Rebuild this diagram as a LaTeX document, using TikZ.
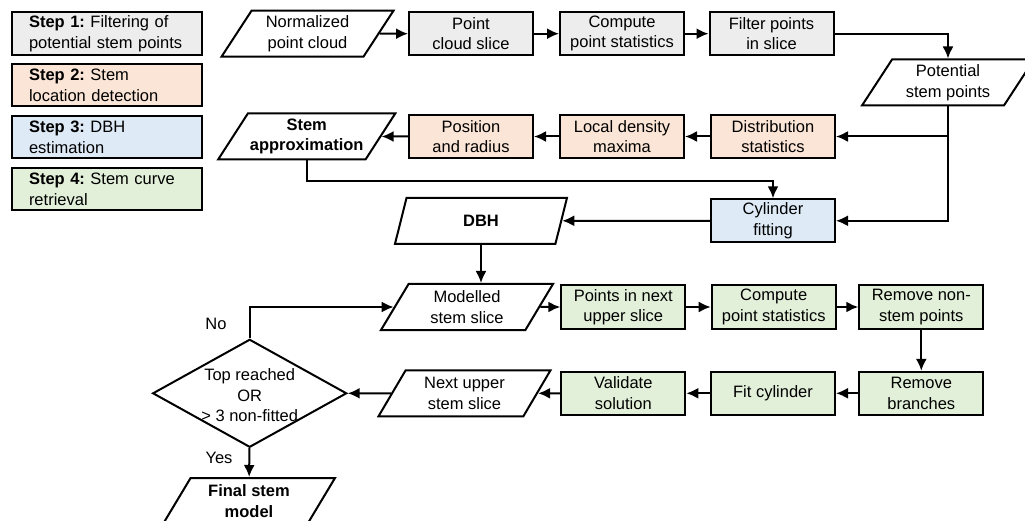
\documentclass[tikz,border=0pt]{standalone}
\usepackage{fontspec}
\setmainfont{Liberation Sans}
\usepackage{xcolor}
\usepackage{tikz}
\usetikzlibrary{shapes,arrows.meta}
\newcommand{\nodefont}{\fontsize{16.5}{20.5}\selectfont}
\definecolor{filtgray}{HTML}{EDEDED}
\definecolor{locorange}{HTML}{FBE5D6}
\definecolor{dbhblue}{HTML}{DEEBF7}
\definecolor{curvegreen}{HTML}{E2F0D9}
\tikzset{box/.style={rectangle,draw,minimum width=124pt,minimum height=43pt,inner sep=2pt,align=center,font=\nodefont}}
\tikzset{io/.style={trapezium,trapezium left angle=53,trapezium right angle=127,trapezium stretches body,draw,minimum width=172pt,minimum height=46pt,inner sep=2pt,align=center,font=\nodefont}}
\tikzset{legend/.style={rectangle,draw,minimum width=190pt,minimum height=42pt,text width=156pt,inner xsep=17pt,align=left,font=\nodefont}}
\tikzset{dec/.style={diamond,draw,minimum width=194pt,minimum height=108pt,inner sep=0pt}}

\begin{document}
\frenchspacing
\begin{tikzpicture}[x=1pt,y=-1pt,line width=2pt,>={Latex[length=12pt,width=11pt]}]
    \useasboundingbox (0,0) rectangle (1025,521);
    \clip (0,0) rectangle (1025,521);

    \node[legend,fill=filtgray] (leg1) at (107,33.5) {\textbf{Step 1:} Filtering of\\potential stem points};
    \node[legend,fill=locorange] (leg2) at (107,85.5) {\textbf{Step 2:} Stem\\location detection};
    \node[legend,fill=dbhblue] (leg3) at (107,137.5) {\textbf{Step 3:} DBH\\estimation};
    \node[legend,fill=curvegreen] (leg4) at (107,189.3) {\textbf{Step 4:} Stem curve\\retrieval};

    \node[io] (cloud) at (307.5,33.7) {Normalized\\point cloud};
    \node[box,fill=filtgray] (slice) at (471,33.7) {Point\\cloud slice};
    \node[box,fill=filtgray] (stats) at (622,33.7) {Compute\\point statistics};
    \node[box,fill=filtgray] (filt) at (771.5,33.7) {Filter points\\in slice};
    \node[io] (potential) at (948,82.5) {Potential\\stem points};

    \node[box,fill=locorange] (distr) at (773,136.5) {Distribution\\statistics};
    \node[box,fill=locorange] (maxima) at (622,136.5) {Local density\\maxima};
    \node[box,fill=locorange] (posrad) at (471,136.5) {Position\\and radius};
    \node[io,font=\nodefont\bfseries] (approx) at (306.7,136.5) {Stem\\approximation};

    \node[box,fill=dbhblue] (cyl) at (773,220.8) {Cylinder\\fitting};
    \node[io,font=\nodefont\bfseries] (dbh) at (481,220.8) {DBH};

    \node[io] (modelled) at (467,307) {Modelled\\stem slice};
    \node[box,fill=curvegreen] (upper) at (623.3,307) {Points in next\\upper slice};
    \node[box,fill=curvegreen] (stats2) at (773.7,307) {Compute\\point statistics};
    \node[box,fill=curvegreen] (nonstem) at (921.3,307) {Remove non-\\stem points};

    \node[box,fill=curvegreen] (branches) at (921.3,393.3) {Remove\\branches};
    \node[box,fill=curvegreen] (fitcyl) at (773,393.3) {Fit cylinder};
    \node[box,fill=curvegreen] (valid) at (623.3,393.3) {Validate\\solution};
    \node[io] (next) at (464.5,393.3) {Next upper\\stem slice};
    \node[dec] (top) at (249.7,393.3) {};
    \node[font=\nodefont,align=center] (toptext) at (249.7,395.5) {Top reached\\OR\\> 3 non-fitted};
    \node[io,font=\nodefont\bfseries] (final) at (249,501) {Final stem\\model};

    \node[font=\nodefont] (no) at (216,324) {No};
    \node[font=\nodefont] (yes) at (219,458.3) {Yes};

    \draw [->] (cloud) -- (slice);
    \draw [->] (slice) -- (stats);
    \draw [->] (stats) -- (filt);
    \draw [->] (filt) -| (potential);
    \draw [->] (potential) |- (distr);
    \draw [->] (potential) |- (cyl);
    \draw [->] (distr) -- (maxima);
    \draw [->] (maxima) -- (posrad);
    \draw [->] (posrad) -- (approx);
    \draw [->] (approx.south) -- ++(0,20.5) -| (cyl);
    \draw [->] (cyl) -- (dbh);
    \draw [->] (dbh.south) -- (dbh.south |- modelled.north);
    \draw [->] (modelled) -- (upper);
    \draw [->] (upper) -- (stats2);
    \draw [->] (stats2) -- (nonstem);
    \draw [->] (nonstem) -- (branches);
    \draw [->] (branches) -- (fitcyl);
    \draw [->] (fitcyl) -- (valid);
    \draw [->] (valid) -- (next);
    \draw [->] (next) -- (top);
    \draw [->] (top) |- (modelled);
    \draw [->] (top) -- (final);
\end{tikzpicture}
\end{document}
